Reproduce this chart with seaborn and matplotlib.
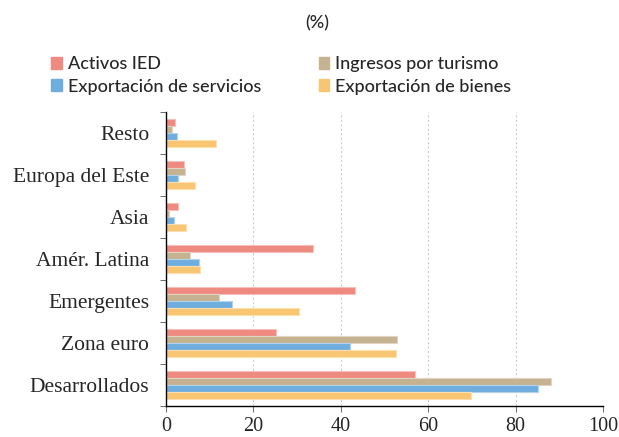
import matplotlib.pyplot as plt
import matplotlib.colors as mcolors
import numpy as np
import pandas as pd
import seaborn as sns

# Data (%)
regions = ['Resto', 'Europa del Este', 'Asia', 'Amér. Latina',
           'Emergentes', 'Zona euro', 'Desarrollados']
series = ['Activos IED', 'Ingresos por turismo',
          'Exportación de servicios', 'Exportación de bienes']
activos_ied = [2.1, 4.2, 2.7, 33.7, 43.2, 25.2, 57.0]
turismo = [1.3, 4.4, 0.8, 5.4, 12.2, 52.8, 88.0]
servicios = [2.6, 2.8, 1.8, 7.5, 15.0, 42.2, 85.1]
bienes = [11.4, 6.6, 4.5, 7.7, 30.4, 52.6, 69.8]
colors = ['#EE8A80', '#C4B290', '#6FADDE', '#F8C572']

df = pd.DataFrame({
    'region': regions * 4,
    'serie': np.repeat(series, len(regions)),
    'valor': activos_ied + turismo + servicios + bienes,
})

sns.set_style('white')
plt.rcParams['font.family'] = ['Liberation Serif', 'DejaVu Serif']

fig = plt.figure(figsize=(6.19, 4.37), dpi=100)
ax = fig.add_axes([166 / 619, 1 - 406 / 437, (603 - 166) / 619, (406 - 112) / 437])

sns.barplot(data=df, y='region', x='valor', hue='serie', order=regions,
            hue_order=series, palette=colors, orient='h', width=0.66,
            saturation=1, ax=ax, legend=False)

for p in ax.patches:
    fc = np.array(mcolors.to_rgb(p.get_facecolor()))
    p.set_edgecolor(tuple(fc + (1 - fc) * 0.45))
    p.set_linewidth(0.8)

ax.set_xlim(0, 100)
ax.set_ylim(len(regions) - 0.5, -0.5)
ax.set_xticks([0, 20, 40, 60, 80, 100])
ax.set_yticks(np.arange(-0.5, len(regions)), minor=True)
ax.set_xlabel('')
ax.set_ylabel('')
ax.tick_params(axis='y', which='major', labelsize=15.5, length=0, left=False, pad=12)
ax.tick_params(axis='y', which='minor', length=4, color='#555555', left=True)
ax.tick_params(axis='x', labelsize=14.5, length=4, color='#777777', bottom=True, pad=4)
for x in [20, 40, 60, 80]:
    ax.axvline(x, color='#cccccc', linestyle=(0, (2, 2)), linewidth=0.8, zorder=0)
ax.set_axisbelow(True)
for s in ['top', 'right']:
    ax.spines[s].set_visible(False)
for s in ['left', 'bottom']:
    ax.spines[s].set_color('black')
    ax.spines[s].set_linewidth(1.0)

# Title and legend
fig.text(0.513, 1 - 23 / 437, '(%)', ha='center', va='center', fontsize=13,
         fontweight='medium', family=['Lato', 'DejaVu Sans'])
handles = [plt.Rectangle((0, 0), 1, 1, color=c) for c in colors]
order = [0, 2, 1, 3]
fig.legend([handles[i] for i in order], [series[i] for i in order],
           loc='upper left', bbox_to_anchor=(35 / 619, 1 - 40 / 437), ncol=2,
           frameon=False, columnspacing=3.2, handlelength=0.6, handleheight=0.6,
           handletextpad=0.3, labelspacing=0.35,
           prop={'family': ['Lato', 'DejaVu Sans'], 'size': 13,
                 'weight': 'medium'})

fig.savefig('out.png', dpi=100)
